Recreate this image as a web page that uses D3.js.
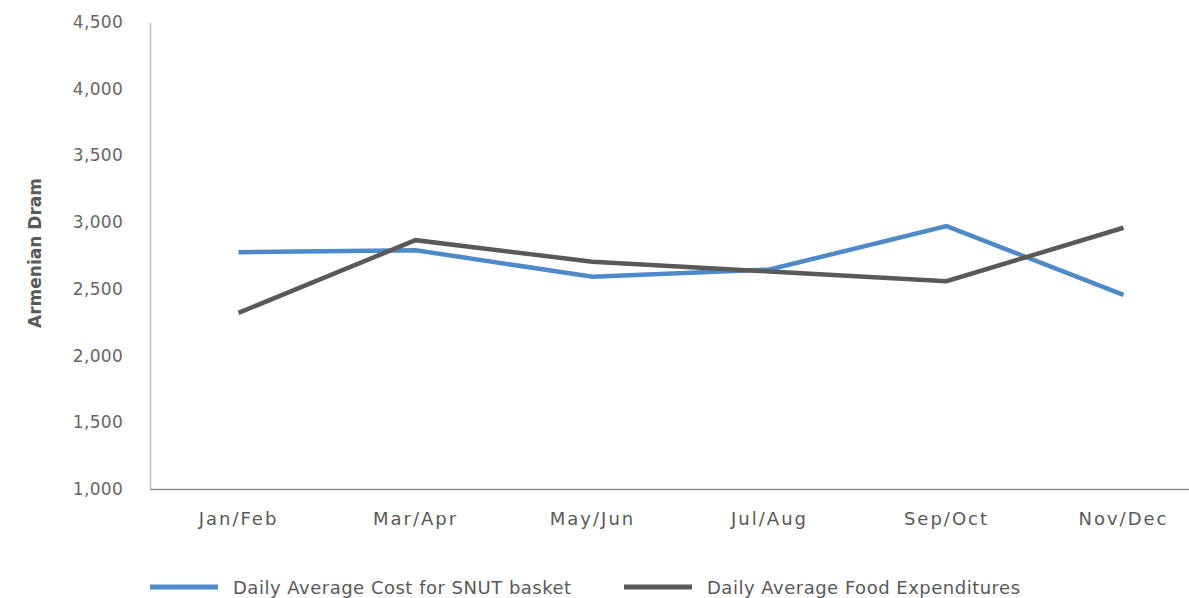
<!DOCTYPE html>
<html><head><meta charset="utf-8">
<script src="https://cdn.jsdelivr.net/npm/d3@7"></script>
<style>html,body{margin:0;padding:0;background:#fff;overflow:hidden}</style>
</head><body>
<svg id="chart" width="1189" height="598"></svg>
<script>
const categories = ["Jan/Feb","Mar/Apr","May/Jun","Jul/Aug","Sep/Oct","Nov/Dec"];
const snutCost = [2775, 2790, 2590, 2645, 2970, 2455];
const foodExp = [2320, 2865, 2703, 2630, 2557, 2958];
const yTicks = [1000,1500,2000,2500,3000,3500,4000,4500];
const seriesNames = ["Daily Average Cost for SNUT basket","Daily Average Food Expenditures"];
const colors = ["#4E8AC8","#595959"];

(function(){
const svg = d3.select("#chart");
const font = "'DejaVu Sans', sans-serif";
const mLeft = 150, mRight = 1212, mTop = 22, mBottom = 489;

const x = d3.scaleBand().domain(categories).range([mLeft, mRight]);
const y = d3.scaleLinear().domain([1000,4500]).range([mBottom, mTop]);

const ya = svg.append("g").attr("transform",`translate(${mLeft},0)`)
  .call(d3.axisLeft(y).tickValues(yTicks).tickSize(0).tickPadding(27).tickFormat(d3.format(",")));
ya.select(".domain").attr("stroke","#bfbfbf").attr("stroke-width",1.5);
ya.selectAll("text").attr("font-family",font).attr("font-size",17).attr("fill","#666")
  .attr("letter-spacing","0.3px");

const xa = svg.append("g").attr("transform",`translate(0,${mBottom})`)
  .call(d3.axisBottom(x).tickSize(0).tickPadding(23));
xa.select(".domain").attr("stroke","#8c8c8c").attr("stroke-width",1.5);
xa.selectAll("text").attr("font-family",font).attr("font-size",18).attr("fill","#595959")
  .attr("letter-spacing","2px");

svg.append("text").attr("transform","translate(41,253) rotate(-90)")
  .attr("text-anchor","middle").attr("font-family",font).attr("font-size",17)
  .attr("font-weight","bold").attr("fill","#595959").text("Armenian Dram");

const line = d3.line().x((d,i)=>x(categories[i])+x.bandwidth()/2).y(d=>y(d));
[snutCost, foodExp].forEach((s,i)=>{
  svg.append("path").datum(s).attr("d",line).attr("fill","none")
    .attr("stroke",colors[i]).attr("stroke-width",4.5).attr("stroke-linejoin","miter");
});

const legX = [150, 624];
seriesNames.forEach((n,i)=>{
  svg.append("line").attr("x1",legX[i]).attr("x2",legX[i]+68).attr("y1",587).attr("y2",587)
    .attr("stroke",colors[i]).attr("stroke-width",5);
  svg.append("text").attr("x",legX[i]+83).attr("y",594).attr("font-family",font)
    .attr("font-size",18).attr("fill","#595959").attr("letter-spacing","0.5px").text(n);
});
})();
</script>
</body></html>
